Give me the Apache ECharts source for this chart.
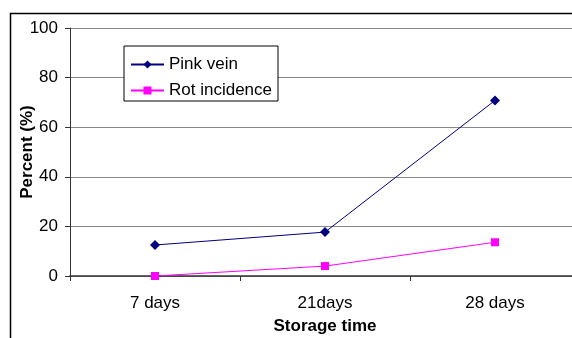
<!DOCTYPE html>
<html><head><meta charset="utf-8">
<script src="https://cdn.jsdelivr.net/npm/echarts@6/dist/echarts.min.js"></script>
<style>html,body{margin:0;padding:0;background:#fff}#c{width:572px;height:338px}</style>
</head><body><div id="c"></div>
<script>
const categories = ['7 days', '21days', '28 days'];
const pinkVein = [12.5, 17.7, 70.8];
const rotIncidence = [0, 4.0, 13.6];
const yTicks = {min: 0, max: 100, interval: 20};

const FONT = "'Liberation Sans', Arial, sans-serif";
const chart = echarts.init(document.getElementById('c'), null, {renderer: 'canvas'});
chart.setOption({
  animation: false,
  backgroundColor: '#fff',
  textStyle: {fontFamily: FONT},
  graphic: [{
    type: 'rect', shape: {x: 10.5, y: 13.5, width: 700, height: 500},
    style: {fill: 'none', stroke: '#000', lineWidth: 1.5}, z: -1
  }],
  grid: {left: 70, top: 28, right: -8, bottom: 62, containLabel: false, outerBoundsMode: 'none'},
  legend: {
    orient: 'vertical', left: 124, top: 46,
    padding: [10, 6, 2, 6], itemGap: 9, itemWidth: 33, itemHeight: 10,
    borderColor: '#000', borderWidth: 1, backgroundColor: '#fff',
    textStyle: {fontSize: 17, color: '#000', fontFamily: FONT},
    data: ['Pink vein', 'Rot incidence']
  },
  xAxis: {
    type: 'category', data: categories, boundaryGap: true,
    name: 'Storage time', nameLocation: 'middle', nameGap: 42, nameMoveOverlap: false,
    nameTextStyle: {fontSize: 17, fontWeight: 'bold', color: '#000', fontFamily: FONT},
    axisLine: {lineStyle: {color: '#333', width: 1.5}},
    axisTick: {show: true, length: 5, lineStyle: {color: '#333'}},
    axisLabel: {fontSize: 17, color: '#000', margin: 19, fontFamily: FONT},
    splitLine: {show: false}
  },
  yAxis: {
    type: 'value', min: yTicks.min, max: yTicks.max, interval: yTicks.interval,
    name: 'Percent (%)', nameLocation: 'middle', nameGap: 34, nameMoveOverlap: false,
    nameTextStyle: {fontSize: 17, fontWeight: 'bold', color: '#000', fontFamily: FONT},
    axisLine: {show: true, lineStyle: {color: '#333', width: 1}},
    axisTick: {show: true, length: 5, lineStyle: {color: '#333'}},
    axisLabel: {fontSize: 17, color: '#000', margin: 12, fontFamily: FONT},
    splitLine: {show: true, lineStyle: {color: '#888', width: 1}}
  },
  series: [
    {name: 'Pink vein', type: 'line', data: pinkVein, symbol: 'diamond', symbolSize: 10,
     itemStyle: {color: '#000080'}, lineStyle: {color: '#000080', width: 1}},
    {name: 'Rot incidence', type: 'line', data: rotIncidence, symbol: 'rect', symbolSize: 8,
     itemStyle: {color: '#ff00ff'}, lineStyle: {color: '#ff00ff', width: 1}}
  ]
});
</script></body></html>
